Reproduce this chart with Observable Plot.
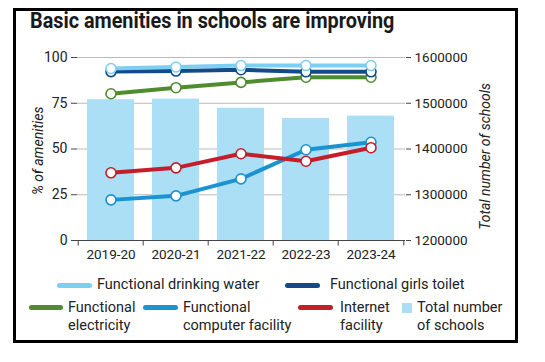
<!DOCTYPE html>
<html>
<head>
<meta charset="utf-8">
<script src="https://cdn.jsdelivr.net/npm/d3@7"></script>
<script src="https://cdn.jsdelivr.net/npm/@observablehq/plot@0.6"></script>
<style>
  html, body { margin: 0; padding: 0; background: #fff; }
  body { width: 545px; height: 362px; position: relative; overflow: hidden;
         font-family: Roboto, sans-serif; color: #222; }
  #frame { position: absolute; left: 13px; top: 8px; width: 499px; height: 329px; border: 3px solid #000; }
  #title { position: absolute; left: 30px; top: 8px; font-size: 22px; font-weight: bold; color: #1a1a1a; white-space: nowrap;
           transform: scaleX(0.9); transform-origin: 0 0; }
  #chart { position: absolute; left: 0; top: 0; }
  .lg { position: absolute; font-size: 14.5px; line-height: 18px; color: #222; white-space: nowrap; }
  .sw { position: absolute; height: 5px; border-radius: 3px; }
  .sq { position: absolute; width: 10px; height: 10px; }
</style>
</head>
<body>
<div id="frame"></div>
<div id="chart"></div>
<div id="title">Basic amenities in schools are improving</div>
<div id="legend"></div>
<script>
const years = ["2019-20", "2020-21", "2021-22", "2022-23", "2023-24"];
const drinkingWater = [94, 94.8, 95.6, 95.6, 95.6];
const girlsToilet = [92.3, 92.6, 93.3, 92.2, 92.2];
const electricity = [80.2, 83.5, 86.4, 89.2, 89.2];
const computer = [22.2, 24.4, 33.7, 49.6, 53.7];
const internet = [37, 39.7, 47.4, 43.3, 50.7];
const totalSchools = [1507708, 1509136, 1489115, 1466870, 1471891];
const pctTicks = [0, 25, 50, 75, 100];
const schoolTicks = [1200000, 1300000, 1400000, 1500000, 1600000];

const seriesNames = ["Functional drinking water", "Functional girls toilet", "Functional electricity", "Functional computer facility", "Internet facility"];
const seriesValues = [drinkingWater, girlsToilet, electricity, computer, internet];
const seriesColors = ["#7ccff3", "#124a8a", "#4e8c2e", "#1a93d0", "#c41e2a"];
const barColor = "#aadff6";
const drawOrder = [2, 1, 0, 3, 4];

// map school counts onto percent axis (1.2M..1.6M -> 0..100)
const toPct = v => (v - 1200000) / 4000;

const bars = years.map((y, i) => ({year: y, schools: totalSchools[i]}));
const lineMarks = [];
for (const k of drawOrder) {
  const data = years.map((y, i) => ({year: y, v: seriesValues[k][i]}));
  lineMarks.push(Plot.line(data, {x: "year", y: "v", stroke: seriesColors[k], strokeWidth: 4}));
  lineMarks.push(Plot.dot(data, {x: "year", y: "v", r: 5, fill: "white", stroke: seriesColors[k], strokeWidth: 1.6}));
}
const step = (405 - 77) / years.length;
const FONT = 'Roboto, sans-serif';

const chart = Plot.plot({
  width: 545,
  height: 275,
  marginLeft: 77,
  marginRight: 140,
  marginTop: 57,
  marginBottom: 35,
  style: {fontFamily: FONT, fontSize: "14px", color: "#222", background: "transparent"},
  x: {type: "band", domain: years, paddingInner: 0.27, paddingOuter: 0.135, label: null},
  y: {domain: [0, 100], label: null},
  marks: [
    Plot.gridY(pctTicks, {stroke: "#bbb", strokeOpacity: 1, strokeWidth: 1}),
    Plot.barY(bars, {x: "year", y1: 0, y2: d => toPct(d.schools), fill: barColor}),
    Plot.ruleY([0], {stroke: "#444", strokeWidth: 1.2}),
    Plot.ruleX(years, {x: d => d, dx: -step / 2, y1: 0, y2: -3, stroke: "#444"}),
    Plot.ruleX([years[years.length - 1]], {x: d => d, dx: step / 2, y1: 0, y2: -3, stroke: "#444"}),
    Plot.axisY(pctTicks, {anchor: "left", tickSize: 6, tickPadding: 4, fontSize: 14, stroke: "#444", label: null}),
    Plot.axisY(pctTicks, {anchor: "right", tickSize: 5, tickPadding: 4, fontSize: 13.5, stroke: "#444",
      tickFormat: (d, i) => String(schoolTicks[i]), label: null}),
    Plot.axisX(years, {tickSize: 0, tickPadding: 9, fontSize: 13.5, label: null}),
    Plot.text(["% of amenities"], {frameAnchor: "left", dx: -39, y: 49, rotate: -90, textAnchor: "middle",
      fontStyle: "italic", fontSize: 14}),
    Plot.text(["Total number of schools"], {frameAnchor: "right", dx: 80, y: 46, rotate: -90, textAnchor: "middle",
      fontStyle: "italic", fontSize: 14}),
    ...lineMarks
  ]
});
document.getElementById("chart").appendChild(chart);

// legend
const legendItems = [
  {k: 0, sx: 57, sw: 35, sy: 285, tx: 97, ty: 276, label: "Functional drinking water"},
  {k: 1, sx: 285, sw: 35, sy: 285, tx: 330, ty: 276, label: "Functional girls toilet"},
  {k: 2, sx: 29, sw: 34, sy: 307, tx: 68, ty: 299, label: "Functional<br>electricity"},
  {k: 3, sx: 143, sw: 35, sy: 307, tx: 183, ty: 299, label: "Functional<br>computer facility"},
  {k: 4, sx: 298, sw: 35, sy: 307, tx: 340, ty: 299, label: "Internet<br>facility"}
];
const lg = document.getElementById("legend");
for (const it of legendItems) {
  const s = document.createElement("div");
  s.className = "sw";
  s.style.left = it.sx + "px"; s.style.top = (it.sy - 2.5) + "px"; s.style.width = it.sw + "px";
  s.style.background = seriesColors[it.k];
  lg.appendChild(s);
  const t = document.createElement("div");
  t.className = "lg";
  t.style.left = it.tx + "px"; t.style.top = it.ty + "px";
  t.innerHTML = it.label;
  lg.appendChild(t);
}
const sq = document.createElement("div");
sq.className = "sq"; sq.style.left = "402px"; sq.style.top = "303px"; sq.style.background = barColor;
lg.appendChild(sq);
const st = document.createElement("div");
st.className = "lg"; st.style.left = "417px"; st.style.top = "299px";
st.innerHTML = "Total number<br>of schools";
lg.appendChild(st);
</script>
</body>
</html>
